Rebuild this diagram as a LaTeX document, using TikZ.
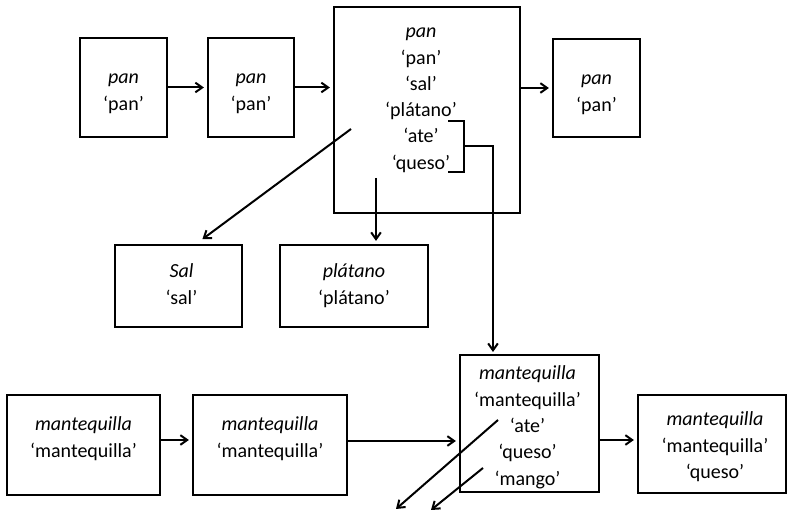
\documentclass[tikz,border=0pt]{standalone}
\usepackage{fontspec}
\setmainfont{Carlito}
\usetikzlibrary{arrows.meta, positioning}

\begin{document}
\begin{tikzpicture}[
    x=1pt, y=-1pt,
    cell/.style={rectangle, draw, line width=2.2pt},
    txt/.style={align=center, inner sep=0pt, font=\fontsize{20}{26.3}\selectfont},
    line/.style={line width=2pt},
    arrow/.style={-{Straight Barb[length=2.4mm, width=3.4mm]}, line width=2pt, shorten >=3pt}
]
    \useasboundingbox (0,0) rectangle (788,510);

    % top row
    \node[cell, minimum width=87pt, minimum height=99pt] (pan1) at (123.5,87.5) {};
    \node[cell, minimum width=86pt, minimum height=99pt] (pan2) at (251,87.5) {};
    \node[cell, minimum width=186pt, minimum height=206pt] (big) at (427,110) {};
    \node[cell, minimum width=87pt, minimum height=98pt] (pan4) at (596.5,88) {};
    \node[cell, minimum width=127pt, minimum height=82pt] (sal) at (178.5,286) {};
    \node[cell, minimum width=148pt, minimum height=82pt] (plat) at (354,286) {};

    \node[txt, below=37pt of pan1.north] (pan1t) {\textit{pan}\\‘pan’};
    \node[txt, below=37pt of pan2.north] (pan2t) {\textit{pan}\\‘pan’};
    \node[txt, below=22pt of big.north, xshift=-6pt] (bigt)
        {\textit{pan}\\‘pan’\\‘sal’\\‘plátano’\\‘ate’\\‘queso’};
    \node[txt, below=37pt of pan4.north] (pan4t) {\textit{pan}\\‘pan’};
    \node[txt, below=20pt of sal.north, xshift=3pt] (salt) {\textit{Sal}\\‘sal’};
    \node[txt, below=20pt of plat.north] (platt) {\textit{plátano}\\‘plátano’};

    % bottom row
    \node[cell, minimum width=153pt, minimum height=100pt] (m1) at (83.5,445) {};
    \node[cell, minimum width=154pt, minimum height=100pt] (m2) at (270,445) {};
    \node[cell, minimum width=139pt, minimum height=137pt] (mid) at (529.5,423.5) {};
    \node[cell, minimum width=148pt, minimum height=98pt] (m4) at (712,444) {};

    \node[txt, below=23pt of m1.north] (m1t) {\textit{mantequilla}\\‘mantequilla’};
    \node[txt, below=23pt of m2.north] (m2t) {\textit{mantequilla}\\‘mantequilla’};
    \node[txt, below=12pt of mid.north, xshift=-2pt] (midt)
        {\textit{mantequilla}\\‘mantequilla’\\‘ate’\\‘queso’\\‘mango’};
    \node[txt, below=18pt of m4.north, xshift=3pt] (m4t)
        {\textit{mantequilla}\\‘mantequilla’\\‘queso’};

    % free ends
    \coordinate (brk) at (464,146);
    \coordinate (midin) at (493,355);
    \coordinate (salout) at (351,129);
    \coordinate (salin) at (200,241);
    \coordinate (platout) at (376,178);
    \coordinate (ateout) at (498,420);
    \coordinate (ateend) at (396,509);
    \coordinate (mangoout) at (483,468);
    \coordinate (mangoend) at (431,510);

    \draw[arrow] (pan1) -- (pan2);
    \draw[arrow] (pan2.east) -- (pan2.east -| big.west);
    \draw[arrow] (big.east |- pan4) -- (pan4);
    \draw[line] (448,121) -- (brk |- 0,121) -- (brk |- 0,172) -- (448,172);
    \draw[arrow] (brk) -| (midin);
    \draw[arrow] (salout) -- (salin);
    \draw[arrow] (platout) -- (platout |- plat.north);

    \draw[arrow] ([yshift=5pt]m1.east) -- ([yshift=5pt]m2.west);
    \draw[arrow] ([yshift=4pt]m2.east) -- ([yshift=4pt]m2.east -| mid.west);
    \draw[arrow] ([yshift=4pt]m4.west -| mid.east) -- ([yshift=4pt]m4.west);
    \draw[arrow, shorten >=0pt] (ateout) -- (ateend);
    \draw[arrow, shorten >=0pt] (mangoout) -- (mangoend);
\end{tikzpicture}
\end{document}
